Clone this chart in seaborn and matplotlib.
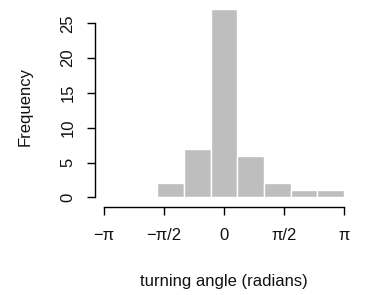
import numpy as np
import pandas as pd
import seaborn as sns
import matplotlib
matplotlib.use('Agg')
import matplotlib.pyplot as plt

# 9 equal bins over [-pi, pi]
bin_edges = list(np.linspace(-np.pi, np.pi, 10))
bin_centers = [(a + b) / 2 for a, b in zip(bin_edges[:-1], bin_edges[1:])]
counts = [0, 0, 2, 7, 27, 6, 2, 1, 1]

xtick_pos = [-np.pi, -np.pi / 2, 0, np.pi / 2, np.pi]
xtick_labels = ['\u2212\u03c0', '\u2212\u03c0/2', '0', '\u03c0/2', '\u03c0']
ytick_pos = [0, 5, 10, 15, 20, 25]

df = pd.DataFrame({'angle': bin_centers, 'n': counts})

sns.set_style('ticks')
plt.rcParams['font.family'] = ['Liberation Sans', 'DejaVu Sans']

fig = plt.figure(figsize=(3.65, 2.95), dpi=100)
ax = fig.add_axes([0.2603, 0.2973, 0.967 - 0.2603, 0.983 - 0.2973])

sns.histplot(data=df, x='angle', weights='n', bins=bin_edges, ax=ax,
             color='#bebebe', alpha=1, edgecolor='white', linewidth=1)

pad = 9 / (240 / (2 * np.pi))
ax.set_xlim(-np.pi - pad, np.pi + pad)
ax.set_ylim(-10 / 6.96, (197.3 - 5) / 6.96)

for s in ['top', 'right']:
    ax.spines[s].set_visible(False)
ax.spines['bottom'].set_bounds(-np.pi, np.pi)
ax.spines['left'].set_bounds(0, 25)
for s in ['bottom', 'left']:
    ax.spines[s].set_color('black')
    ax.spines[s].set_linewidth(1)

ax.set_xticks(xtick_pos)
ax.set_xticklabels(xtick_labels)
ax.set_yticks(ytick_pos)
ax.set_yticklabels([str(v) for v in ytick_pos], rotation=90, va='center')
ax.tick_params(axis='both', length=6, width=1, color='black', labelsize=12,
               labelcolor='#111111')
ax.tick_params(axis='x', pad=9)
ax.tick_params(axis='y', pad=8)

ax.set_xlabel('turning angle (radians)', fontsize=12, labelpad=22, color='#111111')
ax.set_ylabel('Frequency', fontsize=12, labelpad=20, color='#111111')

fig.savefig('out.png', dpi=100)
